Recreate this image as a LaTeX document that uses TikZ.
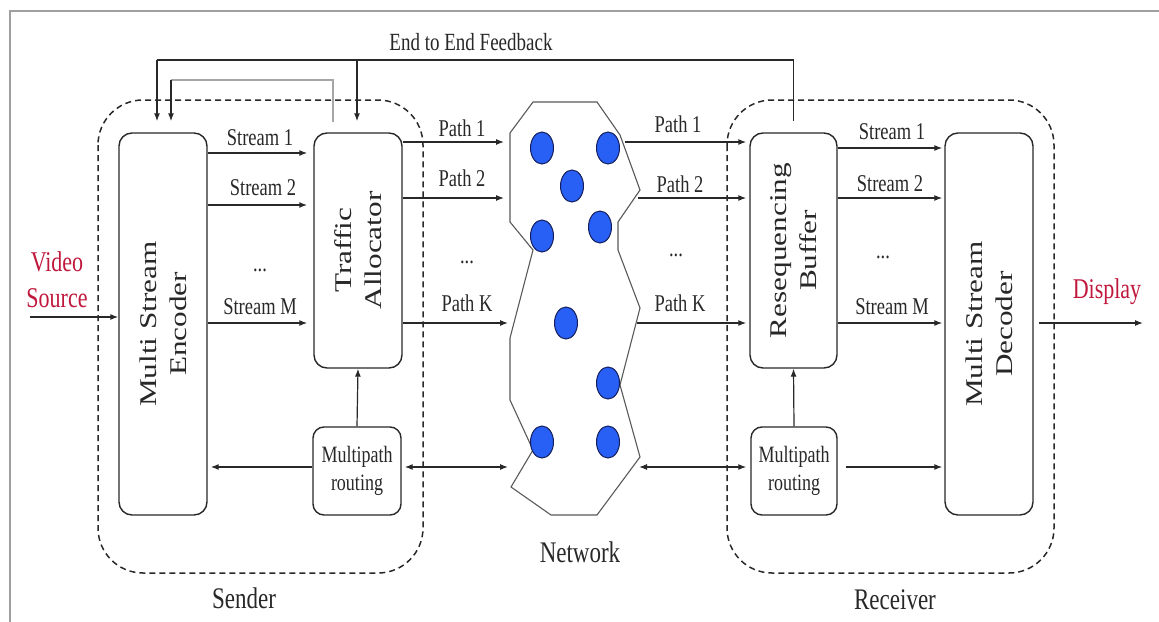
\documentclass[tikz,border=0pt]{standalone}
\usepackage{fontspec}
\setmainfont{Liberation Serif}
\usetikzlibrary{arrows.meta,calc}
\definecolor{redtxt}{RGB}{192,24,60}
\definecolor{netblue}{RGB}{40,95,245}
\definecolor{netedge}{RGB}{20,30,90}
\definecolor{lc}{RGB}{40,40,40}
\newcommand\hs[1]{\scalebox{1}[1.3]{#1}}
\newcommand\vs[1]{\scalebox{1.3}[1]{#1}}
\begin{document}
\begin{tikzpicture}[x=1pt,y=-1pt,
  box/.style={draw=lc, line width=1.4pt, rounded corners=13pt, inner sep=0pt, fill=white},
  arr/.style={draw=lc, line width=1.2pt, -{Latex[length=8pt,width=6pt]}},
  darr/.style={draw=lc, line width=1.2pt, {Latex[length=8pt,width=6pt]}-{Latex[length=8pt,width=6pt]}},
  plainline/.style={draw=lc, line width=1.2pt},
  lab/.style={font=\fontsize{18.5}{22}\selectfont, inner sep=0pt, text=lc},
  capt/.style={font=\fontsize{23}{27}\selectfont, inner sep=0pt, text=lc},
  redlab/.style={font=\fontsize{22}{36}\selectfont, inner sep=0pt, text=redtxt, align=center},
  mr/.style={font=\fontsize{18}{28}\selectfont, inner sep=0pt, text=lc, align=center},
  rot/.style={font=\fontsize{24}{30}\selectfont, rotate=90, align=center, inner sep=0pt, text=lc},
  grp/.style={draw=lc, line width=1.5pt, dash pattern=on 6pt off 4pt, rounded corners=45pt},
  node dot/.style={fill=netblue, draw=netedge, line width=1pt}]
\useasboundingbox (0,0) rectangle (1159,621);
% outer frame
\draw[gray!75, line width=2.5pt] (10,640) -- (10,11) -- (1180,11);

% groups
\draw[grp] (98,100) rectangle (423,573);
\draw[grp] (727,100) rectangle (1054,573);

% boxes
\node[box, minimum width=88pt, minimum height=382pt] (enc) at (163,324) {};
\node[box, minimum width=88pt, minimum height=235pt] (alloc) at (358,250.5) {};
\node[box, minimum width=88pt, minimum height=88pt, rounded corners=11pt] (smr) at (357,471) {};
\node[box, minimum width=87pt, minimum height=235pt] (buf) at (793.5,250.5) {};
\node[box, minimum width=86pt, minimum height=88pt, rounded corners=11pt] (rmr) at (794,471) {};
\node[box, minimum width=88pt, minimum height=382pt] (dec) at (989,324) {};

\node[rot] (encT) at (enc.center) {\vs{Multi Stream}\\\vs{Encoder}};
\node[rot] (allocT) at (alloc.center) {\vs{Traffic}\\\vs{Allocator}};
\node[rot] (bufT) at (buf.center) {\vs{Resequencing}\\\vs{Buffer}};
\node[rot] (decT) at (dec.center) {\vs{Multi Stream}\\\vs{Decoder}};
\node[mr] (smrT) at (smr.center) {\hs{Multipath}\\\hs{routing}};
\node[mr] (rmrT) at (rmr.center) {\hs{Multipath}\\\hs{routing}};

% network
\draw[draw=gray!70!black, line width=1.1pt, fill=white] (533,102) -- (597,102) -- (620,135) -- (640,190) -- (618,222) -- (618,250) -- (640,308) -- (620,385) -- (640,457) -- (597,515) -- (551,515) -- (511,487) -- (533,450) -- (510,400) -- (510,338) -- (533,250) -- (510,222) -- (510,133) -- cycle;
\foreach \p in {(542,148),(608,148),(572,186),(600,227),(542,236),(566,323),(608,383),(542,442),(608,442)}
  \draw[node dot] \p ellipse [x radius=11.5pt, y radius=16pt];
\coordinate (nL1) at (504,142);
\coordinate (nL2) at (504,198);
\coordinate (nLK) at (508,323);
\coordinate (nLb) at (508,467);
\coordinate (nR1) at (625,142);
\coordinate (nR2) at (638,198);
\coordinate (nRK) at (637,323);
\coordinate (nRb) at (639,467);

% feedback
\node[lab, font=\fontsize{19}{22}\selectfont] (fbT) at (471,42) {\hs{End to End Feedback}};
\coordinate (fbA) at (157,60);
\coordinate (fbB) at (171,80);
\draw[plainline] ([yshift=11pt]buf.north) |- (fbA);
\draw[arr] (fbA) -- ([xshift=-6pt,yshift=11pt]enc.north);
\draw[arr] (alloc.north |- fbA) ++(-1,0) -- ([xshift=-1pt,yshift=11pt]alloc.north);
\draw[draw=gray!70, line width=1.2pt] ([xshift=-25pt,yshift=10pt]alloc.north) |- (fbB);
\draw[arr] (fbB) -- ([xshift=8pt,yshift=11pt]enc.north);

% video source
\node[redlab] (vsrc) at (57,280) {\hs{Video}\\\hs{Source}};
\coordinate (vin) at (30,317);
\draw[arr] (vin) -- (enc.west |- vin);

% sender streams
\draw[arr, shorten >=6pt] (enc.east |- 0,153) -- (alloc.west |- 0,153);
\draw[arr, line width=2pt, shorten >=6pt] (enc.east |- 0,205) -- (alloc.west |- 0,205);
\draw[arr, shorten >=6pt] (enc.east |- 0,323) -- (alloc.west |- 0,323);
\node[lab] (s1) at (260,138) {\hs{Stream 1}};
\node[lab] (s2) at (263,188) {\hs{Stream 2}};
\node[lab] (sd) at (260,270) {\hs{...}};
\node[lab] (sM) at (260,307) {\hs{Stream M}};

% sender paths
\draw[arr] (alloc.east |- nL1) -- (nL1);
\draw[arr] (alloc.east |- nL2) -- (nL2);
\draw[arr] (alloc.east |- nLK) -- (nLK);
\node[lab] (p1) at (462,128) {\hs{Path 1}};
\node[lab] (p2) at (462,178) {\hs{Path 2}};
\node[lab] (pd) at (467,262) {\hs{...}};
\node[lab] (pK) at (467,303) {\hs{Path K}};

% sender routing
\draw[arr] (smr.north) -- (alloc.south);
\draw[arr, shorten >=3pt] (smr.west |- nLb) -- (enc.east |- nLb);
\draw[darr, shorten <=3pt] (smr.east |- nLb) -- (nLb);

% receiver paths
\draw[arr, shorten >=3pt] (nR1) -- (buf.west |- nR1);
\draw[arr, shorten >=3pt] (nR2) -- (buf.west |- nR2);
\draw[arr, shorten >=3pt] (nRK) -- (buf.west |- nRK);
\node[lab] (q1) at (678,124) {\hs{Path 1}};
\node[lab] (q2) at (680,184) {\hs{Path 2}};
\node[lab] (qd) at (676,255) {\hs{...}};
\node[lab] (qK) at (680,303) {\hs{Path K}};

% receiver streams
\draw[arr, shorten >=2pt] (buf.east |- 0,148) -- (dec.west |- 0,148);
\draw[arr, shorten >=2pt] (buf.east |- 0,198) -- (dec.west |- 0,198);
\draw[arr, shorten >=2pt] (buf.east |- 0,323) -- (dec.west |- 0,323);
\node[lab] (r1) at (892,132) {\hs{Stream 1}};
\node[lab] (r2) at (890,184) {\hs{Stream 2}};
\node[lab] (rd) at (883,257) {\hs{...}};
\node[lab] (rM) at (892,307) {\hs{Stream M}};

% receiver routing
\draw[arr] (rmr.north) -- (buf.south);
\draw[darr, shorten >=4pt] (nRb) -- (rmr.west |- nRb);
\draw[arr, shorten <=8pt, shorten >=2pt] (rmr.east |- nRb) -- (dec.west |- nRb);

% display
\coordinate (dout) at (1143,323);
\draw[arr, shorten <=5pt] (dec.east |- dout) -- (dout);
\node[redlab] (disp) at (1107,292) {\hs{Display}};

% captions
\node[capt] (sender) at (244,598) {\hs{Sender}};
\node[capt] (network) at (580,552) {\hs{Network}};
\node[capt] (receiver) at (895,600) {\hs{Receiver}};
\end{tikzpicture}
\end{document}
